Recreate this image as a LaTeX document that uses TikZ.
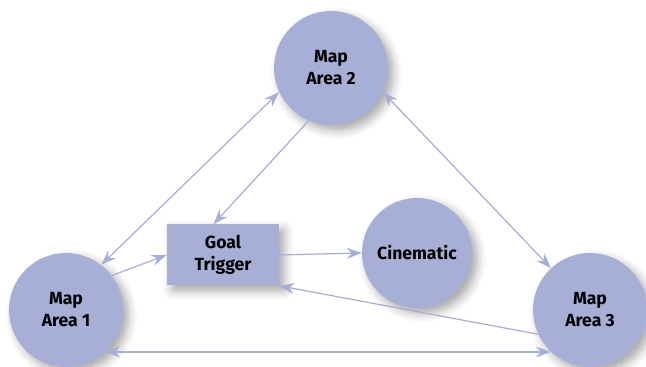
\documentclass[tikz,border=0pt]{standalone}
\usepackage{fontspec}
\setmainfont{Fira Sans}
\usetikzlibrary{arrows.meta,shadows.blur}

\definecolor{areablue}{RGB}{167,175,214}

\tikzset{
  area/.style={circle, fill=areablue, minimum size=2.28cm, inner sep=0pt,
    align=center, font=\bfseries\fontsize{10}{12.5}\selectfont,
    blur shadow={shadow xshift=3pt, shadow yshift=-3pt, shadow blur radius=5pt, shadow opacity=35}},
  trigger/.style={rectangle, fill=areablue, minimum width=2.24cm, minimum height=1.22cm,
    inner sep=0pt, align=center, font=\bfseries\fontsize{10}{12.5}\selectfont,
    blur shadow={shadow xshift=3pt, shadow yshift=-3pt, shadow blur radius=5pt, shadow opacity=35}},
  link/.style={draw=areablue, line width=0.7pt},
  tip/.style={-{Stealth[length=0.3cm, width=0.22cm, inset=0.1cm]}},
  bothtips/.style={{Stealth[length=0.3cm, width=0.22cm, inset=0.1cm]}-{Stealth[length=0.3cm, width=0.22cm, inset=0.1cm]}}
}

\begin{document}
\begin{tikzpicture}[x=0.02cm, y=0.02cm]
    \useasboundingbox (0,0) rectangle (646,367);

    \node[area] (area2) at (331,299) {Map\\Area 2};
    \node[area] (area1) at (66,57) {Map\\Area 1};
    \node[area] (area3) at (590,57) {Map\\Area 3};
    \node[area, minimum size=2.2cm] (cinematic) at (417,114) {Cinematic};
    \node[trigger] (goal) at (223,112) {Goal\\Trigger};

    \draw[link, bothtips] (area1.52) -- (area2.205);
    \draw[link, bothtips] (area2.335) -- (area3.133);
    \draw[link, bothtips] (area1.-47.5) -- (area3.227.5);
    \draw[link, tip] (area2.247) -- (goal.107);
    \draw[link, tip] (area1.37) -- (goal.west);
    \draw[link, tip] (goal.east) -- (cinematic.west);
    \draw[link, tip] (area3.205) -- (goal.south east);
  \end{tikzpicture}
\end{document}
